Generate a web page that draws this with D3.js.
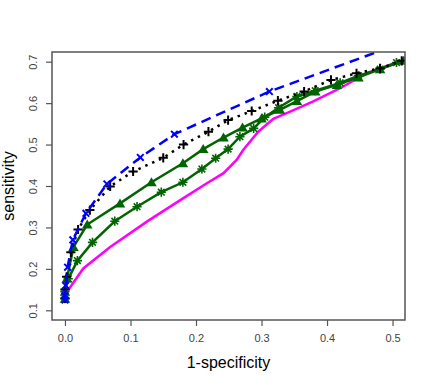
<!DOCTYPE html>
<html>
<head>
<meta charset="utf-8">
<script src="https://cdn.jsdelivr.net/npm/d3@7"></script>
<style>
  body { margin: 0; background: #fff; }
  text { font-family: "Liberation Sans", Arial, sans-serif; }
</style>
</head>
<body>
<div id="chart"></div>
<script>
// ROC curves, 1-specificity vs sensitivity

var xTicks = [0.0, 0.1, 0.2, 0.3, 0.4, 0.5];
var yTicks = [0.1, 0.2, 0.3, 0.4, 0.5, 0.6, 0.7];

// blue dashed, x markers (last point lies outside the plot region)
var blueFpr  = [0.000, 0.000, 0.001, 0.004, 0.012, 0.032, 0.064, 0.115, 0.167, 0.312, 0.560];
var blueTpr  = [0.125, 0.135, 0.160, 0.204, 0.270, 0.334, 0.405, 0.469, 0.525, 0.628, 0.772];

// black dotted, + markers
var blackFpr = [0.000, 0.000, 0.0025, 0.009, 0.020, 0.038, 0.069, 0.104, 0.150, 0.181, 0.219, 0.249, 0.285, 0.325, 0.365, 0.406, 0.445, 0.481, 0.514];
var blackTpr = [0.129, 0.150, 0.181, 0.240, 0.295, 0.342, 0.399, 0.435, 0.468, 0.500, 0.531, 0.559, 0.581, 0.606, 0.628, 0.656, 0.672, 0.684, 0.702];

// green, filled triangles
var triFpr   = [0.000, 0.000, 0.003, 0.013, 0.034, 0.084, 0.132, 0.180, 0.211, 0.242, 0.271, 0.300, 0.328, 0.354, 0.382, 0.415, 0.448, 0.481, 0.517];
var triTpr   = [0.128, 0.145, 0.177, 0.253, 0.307, 0.358, 0.409, 0.455, 0.489, 0.517, 0.541, 0.563, 0.584, 0.605, 0.628, 0.644, 0.662, 0.682, 0.702];

// green, star markers
var starFpr  = [0.000, 0.000, 0.005, 0.019, 0.042, 0.076, 0.110, 0.147, 0.180, 0.209, 0.230, 0.249, 0.267, 0.288, 0.305, 0.326, 0.354, 0.382, 0.420, 0.448, 0.481, 0.506];
var starTpr  = [0.128, 0.145, 0.176, 0.220, 0.264, 0.315, 0.350, 0.385, 0.409, 0.441, 0.467, 0.489, 0.519, 0.539, 0.566, 0.589, 0.616, 0.630, 0.649, 0.666, 0.682, 0.698];

// magenta, no markers
var magFpr   = [0.005, 0.028, 0.069, 0.125, 0.176, 0.216, 0.242, 0.262, 0.272, 0.295, 0.318, 0.349, 0.379, 0.420, 0.460, 0.491, 0.525];
var magTpr   = [0.149, 0.201, 0.253, 0.314, 0.366, 0.406, 0.431, 0.463, 0.487, 0.531, 0.562, 0.583, 0.604, 0.636, 0.672, 0.690, 0.706];

var width = 432, height = 385;
var mLeft = 52, mRight = 405, mTop = 52, mBottom = 320;
var lw = 2.5;
var mw = 2;

var svg = d3.select('#chart').append('svg')
	.attr('width', width)
	.attr('height', height);

var x = d3.scaleLinear().domain([-0.0198, 0.519]).range([mLeft, mRight]);
var y = d3.scaleLinear().domain([0.0766, 0.7234]).range([mBottom, mTop]);

svg.append('clipPath').attr('id', 'plotclip')
	.append('rect')
	.attr('x', mLeft).attr('y', mTop)
	.attr('width', mRight - mLeft).attr('height', mBottom - mTop);

var plot = svg.append('g').attr('clip-path', 'url(#plotclip)');

function zip(xs, ys) { return xs.map(function(v, i) { return [v, ys[i]]; }); }

var line = d3.line().x(function(d) { return x(d[0]); }).y(function(d) { return y(d[1]); });

var series = [
	{ pts: zip(magFpr, magTpr), color: '#ff00ff', dash: null, mark: null },
	{ pts: zip(starFpr, starTpr), color: '#006400', dash: null, mark: 'star' },
	{ pts: zip(triFpr, triTpr), color: '#006400', dash: null, mark: 'tri' },
	{ pts: zip(blackFpr, blackTpr), color: '#000000', dash: '2.5,5', mark: 'plus' },
	{ pts: zip(blueFpr, blueTpr), color: '#0000ff', dash: '10,6', mark: 'cross' }
];

var r = 4.6;
function drawMark(g, kind, color) {
	if (kind === 'tri') {
		var h = 5;
		g.append('path')
			.attr('d', 'M0,' + (-h) + 'L' + (h * 1.05) + ',' + (h * 0.8) + 'L' + (-h * 1.05) + ',' + (h * 0.8) + 'Z')
			.attr('fill', color);
		return;
	}
	var d = '';
	if (kind === 'plus' || kind === 'star') d += 'M' + (-r) + ',0H' + r + 'M0,' + (-r) + 'V' + r;
	if (kind === 'cross' || kind === 'star') {
		var c = r * 0.72;
		d += 'M' + (-c) + ',' + (-c) + 'L' + c + ',' + c + 'M' + (-c) + ',' + c + 'L' + c + ',' + (-c);
	}
	g.append('path').attr('d', d)
		.attr('stroke', color).attr('stroke-width', kind === 'star' ? 1.6 : mw).attr('fill', 'none');
}

series.forEach(function(s) {
	plot.append('path')
		.attr('d', line(s.pts))
		.attr('fill', 'none')
		.attr('stroke', s.color)
		.attr('stroke-width', lw)
		.attr('stroke-dasharray', s.dash);
	if (s.mark) {
		s.pts.forEach(function(p) {
			var g = plot.append('g').attr('transform', 'translate(' + x(p[0]) + ',' + y(p[1]) + ')');
			drawMark(g, s.mark, s.color);
		});
	}
});

// frame
svg.append('rect')
	.attr('x', mLeft).attr('y', mTop)
	.attr('width', mRight - mLeft).attr('height', mBottom - mTop)
	.attr('fill', 'none').attr('stroke', '#555').attr('stroke-width', 1.5);

// axes
var xAxis = svg.append('g').attr('transform', 'translate(0,' + mBottom + ')')
	.call(d3.axisBottom(x).tickValues(xTicks).tickFormat(d3.format('.1f')).tickSize(6).tickPadding(8));
var yAxis = svg.append('g').attr('transform', 'translate(' + mLeft + ',0)')
	.call(d3.axisLeft(y).tickValues(yTicks).tickFormat(d3.format('.1f')).tickSize(6));

[xAxis, yAxis].forEach(function(a) {
	a.select('.domain').remove();
	a.selectAll('line').attr('stroke', '#555').attr('stroke-width', 1.2);
	a.selectAll('text').attr('fill', '#444').style('font-size', '11px')
		.style('font-family', '"Liberation Sans", Arial, sans-serif');
});

yAxis.selectAll('.tick text')
	.attr('x', null).attr('dy', null)
	.attr('text-anchor', 'middle')
	.attr('transform', 'translate(-15,0) rotate(-90)');

// axis titles
svg.append('text')
	.attr('x', (mLeft + mRight) / 2).attr('y', 368)
	.attr('text-anchor', 'middle')
	.style('font-size', '16px')
	.text('1-specificity');

svg.append('text')
	.attr('transform', 'translate(14,' + (mTop + mBottom) / 2 + ') rotate(-90)')
	.attr('text-anchor', 'middle')
	.style('font-size', '16px')
	.text('sensitivity');
</script>
</body>
</html>
